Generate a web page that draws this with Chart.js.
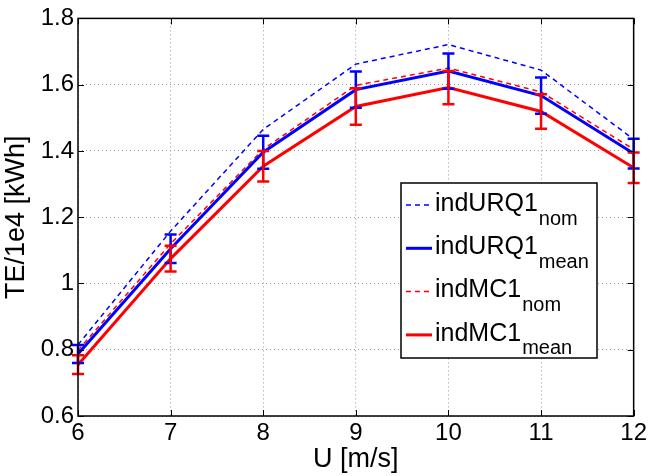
<!DOCTYPE html>
<html>
<head>
<meta charset="utf-8">
<script src="https://cdn.jsdelivr.net/npm/chart.js@4.4.1/dist/chart.umd.min.js"></script>
<style>
  html, body { margin: 0; padding: 0; background: #fff; }
  #wrap { width: 650px; height: 476px; }
</style>
</head>
<body>
<div id="wrap"><canvas id="te-chart" width="650" height="476"></canvas></div>
<script>
// wind speeds and annual energy (TE/1e4 kWh)
var windSpeed = [6, 7, 8, 9, 10, 11, 12];
var urqNom  = [0.815, 1.158, 1.465, 1.662, 1.721, 1.644, 1.435];
var urqMean = [0.787, 1.105, 1.396, 1.585, 1.641, 1.567, 1.392];
var urqErr  = [0.027, 0.043, 0.050, 0.055, 0.053, 0.055, 0.045];
var mcNom   = [0.798, 1.120, 1.405, 1.598, 1.650, 1.578, 1.405];
var mcMean  = [0.755, 1.075, 1.354, 1.534, 1.591, 1.519, 1.349];
var mcErr   = [0.028, 0.039, 0.046, 0.055, 0.050, 0.052, 0.046];
var yTicks  = [0.6, 0.8, 1.0, 1.2, 1.4, 1.6, 1.8];

var FONT = '"Liberation Sans", Arial, Helvetica, sans-serif';
var BLUE = '#0000ff';
var RED = '#ff0000';

function pts(ys) {
    return windSpeed.map(function (x, i) { return {x: x, y: ys[i]}; });
}

// legend entries: main label + subscript
var legendItems = [
    {name: 'indURQ1', sub: 'nom',  color: BLUE, dash: [5, 4], width: 1.5},
    {name: 'indURQ1', sub: 'mean', color: BLUE, dash: [],     width: 3},
    {name: 'indMC1',  sub: 'nom',  color: RED,  dash: [5, 4], width: 1.5},
    {name: 'indMC1',  sub: 'mean', color: RED,  dash: [],     width: 3}
];

var errorBars = {
    id: 'errorBars',
    afterDatasetsDraw: function (chart) {
        var ctx = chart.ctx, xs = chart.scales.x, ys = chart.scales.y;
        chart.data.datasets.forEach(function (ds) {
            if (!ds.err) return;
            ctx.save();
            ctx.strokeStyle = ds.borderColor;
            ctx.lineWidth = 2.5;
            ds.data.forEach(function (p, i) {
                var px = xs.getPixelForValue(p.x);
                var top = ys.getPixelForValue(p.y + ds.err[i]);
                var bot = ys.getPixelForValue(p.y - ds.err[i]);
                ctx.beginPath();
                ctx.moveTo(px, top); ctx.lineTo(px, bot);
                ctx.moveTo(px - 6, top); ctx.lineTo(px + 6, top);
                ctx.moveTo(px - 6, bot); ctx.lineTo(px + 6, bot);
                ctx.stroke();
            });
            ctx.restore();
        });
    }
};

var frameAndLegend = {
    id: 'frameAndLegend',
    afterDraw: function (chart) {
        var ctx = chart.ctx, a = chart.chartArea;
        var xs = chart.scales.x, ys = chart.scales.y;
        ctx.save();
        // axes box with inward ticks
        ctx.strokeStyle = '#000';
        ctx.lineWidth = 1.5;
        ctx.strokeRect(a.left, a.top, a.right - a.left, a.bottom - a.top);
        ctx.lineWidth = 1;
        ctx.beginPath();
        yTicks.forEach(function (v) {
            var py = Math.round(ys.getPixelForValue(v)) + 0.5;
            ctx.moveTo(a.left, py); ctx.lineTo(a.left + 6, py);
            ctx.moveTo(a.right, py); ctx.lineTo(a.right - 6, py);
        });
        windSpeed.forEach(function (v) {
            var px = Math.round(xs.getPixelForValue(v)) + 0.5;
            ctx.moveTo(px, a.bottom); ctx.lineTo(px, a.bottom - 6);
            ctx.moveTo(px, a.top); ctx.lineTo(px, a.top + 6);
        });
        ctx.stroke();

        // legend box
        var bx = 401, by = 183, bw = 196, bh = 175;
        ctx.fillStyle = '#fff';
        ctx.fillRect(bx, by, bw, bh);
        ctx.lineWidth = 1.5;
        ctx.strokeRect(bx, by, bw, bh);
        ctx.textBaseline = 'middle';
        ctx.textAlign = 'left';
        legendItems.forEach(function (it, i) {
            var cy = 204 + i * 43.3;
            ctx.strokeStyle = it.color;
            ctx.lineWidth = it.width;
            ctx.setLineDash(it.dash);
            ctx.beginPath();
            ctx.moveTo(406, cy + 1); ctx.lineTo(432, cy + 1);
            ctx.stroke();
            ctx.setLineDash([]);
            ctx.fillStyle = '#000';
            ctx.font = '25px ' + FONT;
            ctx.fillText(it.name, 435, cy);
            var w = ctx.measureText(it.name).width;
            ctx.font = '20px ' + FONT;
            ctx.fillText(it.sub, 435 + w + 1, cy + 15);
        });
        ctx.restore();
    }
};

new Chart(document.getElementById('te-chart').getContext('2d'), {
    type: 'line',
    data: {
        datasets: [
            {label: 'indURQ1 nom', data: pts(urqNom), borderColor: BLUE, borderWidth: 1.5, borderDash: [5, 4]},
            {label: 'indURQ1 mean', data: pts(urqMean), borderColor: BLUE, borderWidth: 3, err: urqErr},
            {label: 'indMC1 nom', data: pts(mcNom), borderColor: RED, borderWidth: 1.5, borderDash: [5, 4]},
            {label: 'indMC1 mean', data: pts(mcMean), borderColor: RED, borderWidth: 3, err: mcErr}
        ]
    },
    options: {
        responsive: false,
        animation: false,
        clip: false,
        elements: {point: {radius: 0}, line: {tension: 0, fill: false}},
        layout: {padding: {top: 17, right: 15, left: 0, bottom: 0}},
        plugins: {legend: {display: false}, tooltip: {enabled: false}},
        scales: {
            x: {
                type: 'linear', min: 6, max: 12,
                ticks: {stepSize: 1, color: '#000', font: {family: FONT, size: 24}, padding: 3},
                grid: {color: '#9a9a9a', lineWidth: 1, drawTicks: false},
                border: {display: false, dash: [1, 3]},
                title: {display: true, text: 'U [m/s]', color: '#000', font: {family: FONT, size: 27}, padding: {top: 0, bottom: 0}},
                afterFit: function (s) { s.height = 60; }
            },
            y: {
                min: 0.6, max: 1.8,
                ticks: {
                    stepSize: 0.2, color: '#000', font: {family: FONT, size: 24}, padding: 4,
                    callback: function (v) { return String(Number(v.toFixed(1))); }
                },
                grid: {color: '#9a9a9a', lineWidth: 1, drawTicks: false},
                border: {display: false, dash: [1, 3]},
                title: {display: true, text: 'TE/1e4 [kWh]', color: '#000', font: {family: FONT, size: 27}, padding: {top: 0, bottom: 6}},
                afterFit: function (s) { s.width = 78; }
            }
        }
    },
    plugins: [errorBars, frameAndLegend]
});
</script>
</body>
</html>
